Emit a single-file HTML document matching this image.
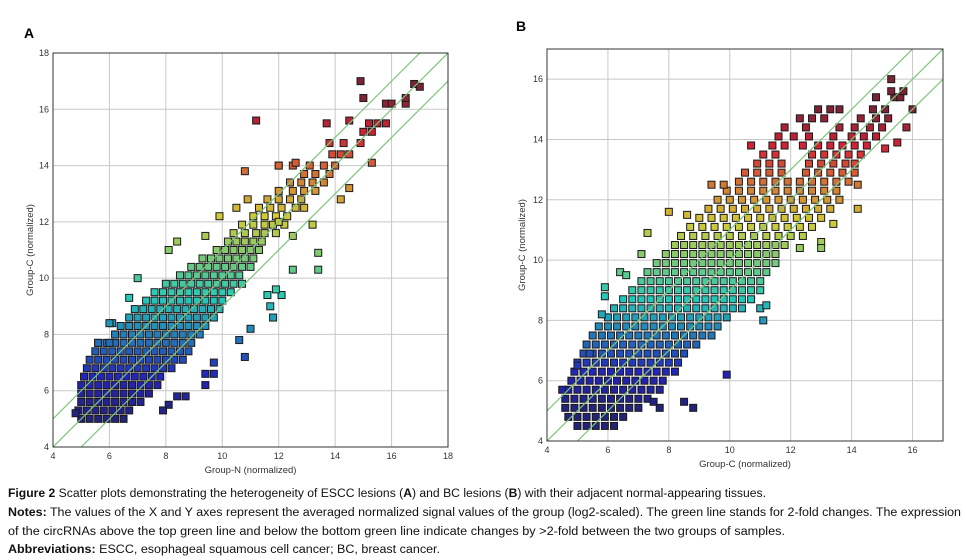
<!DOCTYPE html>
<html><head><meta charset="utf-8"><style>
body{margin:0;background:#fff;}
svg{display:block;font-family:"Liberation Sans",sans-serif;}
</style></head><body>
<svg id="fig" width="966" height="560" viewBox="0 0 966 560">
<rect width="966" height="560" fill="#fff"/>
<text x="24" y="38" font-size="14" font-weight="bold">A</text>
<text x="516" y="31" font-size="14" font-weight="bold">B</text>
<g id="pa"></g>
<g id="pb"></g>
<g font-size="11.5" fill="#111">
<text x="8" y="497" textLength="758" lengthAdjust="spacingAndGlyphs"><tspan font-weight="bold">Figure 2</tspan> Scatter plots demonstrating the heterogeneity of ESCC lesions (<tspan font-weight="bold">A</tspan>) and BC lesions (<tspan font-weight="bold">B</tspan>) with their adjacent normal-appearing tissues.</text>
<text x="8" y="516" textLength="953" lengthAdjust="spacingAndGlyphs"><tspan font-weight="bold">Notes:</tspan> The values of the X and Y axes represent the averaged normalized signal values of the group (log2-scaled). The green line stands for 2-fold changes. The expression</text>
<text x="8" y="535" textLength="777" lengthAdjust="spacingAndGlyphs">of the circRNAs above the top green line and below the bottom green line indicate changes by &gt;2-fold between the two groups of samples.</text>
<text x="8" y="553" textLength="432" lengthAdjust="spacingAndGlyphs"><tspan font-weight="bold">Abbreviations:</tspan> ESCC, esophageal squamous cell cancer; BC, breast cancer.</text>
</g>
</svg>
<script>
// Panel A data
const ticksA = [4,6,8,10,12,14,16,18];
const ptsA = [
[5.0,5.0],[5.3,5.0],[5.6,5.0],[5.9,5.0],[6.2,5.0],[6.5,5.0],
[4.9,5.3],[5.2,5.3],[5.5,5.3],[5.8,5.3],[6.1,5.3],[6.4,5.3],[6.7,5.3],
[5.0,5.6],[5.3,5.6],[5.6,5.6],[5.9,5.6],[6.2,5.6],[6.5,5.6],[6.8,5.6],[7.1,5.6],
[5.0,5.9],[5.3,5.9],[5.6,5.9],[5.9,5.9],[6.2,5.9],[6.5,5.9],[6.8,5.9],[7.1,5.9],[7.4,5.9],
[5.0,6.2],[5.3,6.2],[5.6,6.2],[5.9,6.2],[6.2,6.2],[6.5,6.2],[6.8,6.2],[7.1,6.2],[7.4,6.2],[7.7,6.2],
[5.1,6.5],[5.4,6.5],[5.7,6.5],[6.0,6.5],[6.3,6.5],[6.6,6.5],[6.9,6.5],[7.2,6.5],[7.5,6.5],[7.8,6.5],
[5.2,6.8],[5.5,6.8],[5.8,6.8],[6.1,6.8],[6.4,6.8],[6.7,6.8],[7.0,6.8],[7.3,6.8],[7.6,6.8],[7.9,6.8],[8.2,6.8],
[5.3,7.1],[5.6,7.1],[5.9,7.1],[6.2,7.1],[6.5,7.1],[6.8,7.1],[7.1,7.1],[7.4,7.1],[7.7,7.1],[8.0,7.1],[8.3,7.1],[8.6,7.1],
[5.5,7.4],[5.8,7.4],[6.1,7.4],[6.4,7.4],[6.7,7.4],[7.0,7.4],[7.3,7.4],[7.6,7.4],[7.9,7.4],[8.2,7.4],[8.5,7.4],[8.8,7.4],
[5.6,7.7],[5.9,7.7],[6.2,7.7],[6.5,7.7],[6.8,7.7],[7.1,7.7],[7.4,7.7],[7.7,7.7],[8.0,7.7],[8.3,7.7],[8.6,7.7],[8.9,7.7],
[6.2,8.0],[6.5,8.0],[6.8,8.0],[7.1,8.0],[7.4,8.0],[7.7,8.0],[8.0,8.0],[8.3,8.0],[8.6,8.0],[8.9,8.0],[9.2,8.0],
[6.4,8.3],[6.7,8.3],[7.0,8.3],[7.3,8.3],[7.6,8.3],[7.9,8.3],[8.2,8.3],[8.5,8.3],[8.8,8.3],[9.1,8.3],[9.4,8.3],
[6.7,8.6],[7.0,8.6],[7.3,8.6],[7.6,8.6],[7.9,8.6],[8.2,8.6],[8.5,8.6],[8.8,8.6],[9.1,8.6],[9.4,8.6],[9.7,8.6],
[6.9,8.9],[7.2,8.9],[7.5,8.9],[7.8,8.9],[8.1,8.9],[8.4,8.9],[8.7,8.9],[9.0,8.9],[9.3,8.9],[9.6,8.9],[9.9,8.9],
[7.3,9.2],[7.6,9.2],[7.9,9.2],[8.2,9.2],[8.5,9.2],[8.8,9.2],[9.1,9.2],[9.4,9.2],[9.7,9.2],[10.0,9.2],
[7.6,9.5],[7.9,9.5],[8.2,9.5],[8.5,9.5],[8.8,9.5],[9.1,9.5],[9.4,9.5],[9.7,9.5],[10.0,9.5],[10.3,9.5],
[8.0,9.8],[8.3,9.8],[8.6,9.8],[8.9,9.8],[9.2,9.8],[9.5,9.8],[9.8,9.8],[10.1,9.8],[10.4,9.8],[10.7,9.8],
[8.5,10.1],[8.8,10.1],[9.1,10.1],[9.4,10.1],[9.7,10.1],[10.0,10.1],[10.3,10.1],[10.6,10.1],
[8.9,10.4],[9.2,10.4],[9.5,10.4],[9.8,10.4],[10.1,10.4],[10.4,10.4],[10.7,10.4],[11.0,10.4],
[9.3,10.7],[9.6,10.7],[9.9,10.7],[10.2,10.7],[10.5,10.7],[10.8,10.7],[11.1,10.7],
[9.8,11.0],[10.1,11.0],[10.4,11.0],[10.7,11.0],[11.0,11.0],[11.3,11.0],
[10.2,11.3],[10.5,11.3],[10.8,11.3],[11.1,11.3],[11.4,11.3],
[10.4,11.6],[10.8,11.6],[11.2,11.6],[11.5,11.6],[11.9,11.6],
[10.7,11.9],[11.1,11.9],[11.5,11.9],[11.8,11.9],[12.2,11.9],
[11.1,12.2],[11.5,12.2],[11.9,12.2],[12.3,12.2],
[11.3,12.5],[11.7,12.5],[12.1,12.5],[12.6,12.5],[12.9,12.5],
[10.9,12.8],[11.6,12.8],[12.0,12.8],[12.4,12.8],[12.8,12.8],
[12.0,13.1],[12.5,13.1],[12.9,13.1],[13.3,13.1],
[12.4,13.4],[12.8,13.4],[13.2,13.4],[13.6,13.4],
[12.9,13.7],[13.3,13.7],[13.8,13.7],
[12.0,14.0],[12.5,14.0],[13.1,14.0],[13.6,14.0],[14.0,14.0],
[13.9,14.4],[14.2,14.4],[14.5,14.4],
[13.8,14.8],[14.3,14.8],[14.9,14.8],
[15.0,15.2],[15.3,15.2],
[13.7,15.5],[15.2,15.5],[15.5,15.5],[15.8,15.5],
[15.8,16.2],[16.0,16.2],[16.5,16.2],
[11.2,15.6],[14.9,17.0],[16.8,16.9],[17.0,16.8],[16.5,16.4],[15.0,16.4],[13.4,10.9],[13.4,10.3],[12.5,10.3],
[12.1,9.4],[11.9,9.6],[11.6,9.4],[11.7,9.0],[11.8,8.6],[11.0,8.2],[10.6,7.8],[10.8,7.2],[9.7,7.0],[9.4,6.6],
[9.7,6.6],[9.4,6.2],[8.7,5.8],[8.4,5.8],[8.1,5.5],[7.9,5.3],[4.8,5.2],[6.1,8.4],[6.0,8.4],[6.0,7.7],[5.6,7.7],
[7.0,10.0],[6.7,9.3],[8.4,11.3],[8.1,11.0],[9.4,11.5],[9.9,12.2],[10.5,12.5],[10.8,13.8],[12.6,14.1],[12.0,14.0],
[14.2,12.8],[14.5,13.2],[13.2,11.9],[12.5,11.5],[12.0,12.0],[15.3,14.1],[14.5,15.6]
];
// Panel B data
const ticksB = [4,6,8,10,12,14,16];
const ptsB = [
[5.0,4.5],[5.3,4.5],[5.6,4.5],[5.9,4.5],[6.2,4.5],
[4.7,4.8],[5.0,4.8],[5.3,4.8],[5.6,4.8],[5.9,4.8],[6.2,4.8],[6.5,4.8],
[4.6,5.1],[4.9,5.1],[5.2,5.1],[5.5,5.1],[5.8,5.1],[6.1,5.1],[6.4,5.1],[6.7,5.1],[7.0,5.1],
[4.6,5.4],[4.9,5.4],[5.2,5.4],[5.5,5.4],[5.8,5.4],[6.1,5.4],[6.4,5.4],[6.7,5.4],[7.0,5.4],[7.3,5.4],
[4.7,5.7],[5.0,5.7],[5.3,5.7],[5.6,5.7],[5.9,5.7],[6.2,5.7],[6.5,5.7],[6.8,5.7],[7.1,5.7],[7.4,5.7],[7.7,5.7],
[4.8,6.0],[5.1,6.0],[5.4,6.0],[5.7,6.0],[6.0,6.0],[6.3,6.0],[6.6,6.0],[6.9,6.0],[7.2,6.0],[7.5,6.0],[7.8,6.0],
[4.9,6.3],[5.2,6.3],[5.5,6.3],[5.8,6.3],[6.1,6.3],[6.4,6.3],[6.7,6.3],[7.0,6.3],[7.3,6.3],[7.6,6.3],[7.9,6.3],[8.2,6.3],
[5.0,6.6],[5.3,6.6],[5.6,6.6],[5.9,6.6],[6.2,6.6],[6.5,6.6],[6.8,6.6],[7.1,6.6],[7.4,6.6],[7.7,6.6],[8.0,6.6],[8.3,6.6],
[5.2,6.9],[5.5,6.9],[5.8,6.9],[6.1,6.9],[6.4,6.9],[6.7,6.9],[7.0,6.9],[7.3,6.9],[7.6,6.9],[7.9,6.9],[8.2,6.9],[8.5,6.9],
[5.3,7.2],[5.6,7.2],[5.9,7.2],[6.2,7.2],[6.5,7.2],[6.8,7.2],[7.1,7.2],[7.4,7.2],[7.7,7.2],[8.0,7.2],[8.3,7.2],[8.6,7.2],[8.9,7.2],
[5.5,7.5],[5.8,7.5],[6.1,7.5],[6.4,7.5],[6.7,7.5],[7.0,7.5],[7.3,7.5],[7.6,7.5],[7.9,7.5],[8.2,7.5],[8.5,7.5],[8.8,7.5],[9.1,7.5],[9.4,7.5],
[5.7,7.8],[6.0,7.8],[6.3,7.8],[6.6,7.8],[6.9,7.8],[7.2,7.8],[7.5,7.8],[7.8,7.8],[8.1,7.8],[8.4,7.8],[8.7,7.8],[9.0,7.8],[9.3,7.8],[9.6,7.8],
[6.0,8.1],[6.3,8.1],[6.6,8.1],[6.9,8.1],[7.2,8.1],[7.5,8.1],[7.8,8.1],[8.1,8.1],[8.4,8.1],[8.7,8.1],[9.0,8.1],[9.3,8.1],[9.6,8.1],[9.9,8.1],
[6.2,8.4],[6.5,8.4],[6.8,8.4],[7.1,8.4],[7.4,8.4],[7.7,8.4],[8.0,8.4],[8.3,8.4],[8.6,8.4],[8.9,8.4],[9.2,8.4],[9.5,8.4],[9.8,8.4],[10.1,8.4],[10.4,8.4],
[6.5,8.7],[6.8,8.7],[7.1,8.7],[7.4,8.7],[7.7,8.7],[8.0,8.7],[8.3,8.7],[8.6,8.7],[8.9,8.7],[9.2,8.7],[9.5,8.7],[9.8,8.7],[10.1,8.7],[10.4,8.7],[10.7,8.7],
[6.8,9.0],[7.1,9.0],[7.4,9.0],[7.7,9.0],[8.0,9.0],[8.3,9.0],[8.6,9.0],[8.9,9.0],[9.2,9.0],[9.5,9.0],[9.8,9.0],[10.1,9.0],[10.4,9.0],[10.7,9.0],[11.0,9.0],
[7.1,9.3],[7.4,9.3],[7.7,9.3],[8.0,9.3],[8.3,9.3],[8.6,9.3],[8.9,9.3],[9.2,9.3],[9.5,9.3],[9.8,9.3],[10.1,9.3],[10.4,9.3],[10.7,9.3],[11.0,9.3],
[7.3,9.6],[7.6,9.6],[7.9,9.6],[8.2,9.6],[8.5,9.6],[8.8,9.6],[9.1,9.6],[9.4,9.6],[9.7,9.6],[10.0,9.6],[10.3,9.6],[10.6,9.6],[10.9,9.6],[11.2,9.6],
[7.6,9.9],[7.9,9.9],[8.2,9.9],[8.5,9.9],[8.8,9.9],[9.1,9.9],[9.4,9.9],[9.7,9.9],[10.0,9.9],[10.3,9.9],[10.6,9.9],[10.9,9.9],[11.2,9.9],[11.5,9.9],
[7.9,10.2],[8.2,10.2],[8.5,10.2],[8.8,10.2],[9.1,10.2],[9.4,10.2],[9.7,10.2],[10.0,10.2],[10.3,10.2],[10.6,10.2],[10.9,10.2],[11.2,10.2],[11.5,10.2],
[8.2,10.5],[8.5,10.5],[8.8,10.5],[9.1,10.5],[9.4,10.5],[9.7,10.5],[10.0,10.5],[10.3,10.5],[10.6,10.5],[10.9,10.5],[11.2,10.5],[11.5,10.5],[11.8,10.5],
[8.4,10.8],[8.8,10.8],[9.2,10.8],[9.6,10.8],[10.0,10.8],[10.4,10.8],[10.8,10.8],[11.2,10.8],[11.6,10.8],[12.0,10.8],[12.4,10.8],
[8.7,11.1],[9.1,11.1],[9.5,11.1],[9.9,11.1],[10.3,11.1],[10.7,11.1],[11.1,11.1],[11.5,11.1],[11.9,11.1],[12.3,11.1],[12.7,11.1],
[9.0,11.4],[9.4,11.4],[9.8,11.4],[10.2,11.4],[10.6,11.4],[11.0,11.4],[11.4,11.4],[11.8,11.4],[12.2,11.4],[12.6,11.4],[13.0,11.4],
[9.3,11.7],[9.7,11.7],[10.1,11.7],[10.5,11.7],[10.9,11.7],[11.3,11.7],[11.7,11.7],[12.1,11.7],[12.5,11.7],[12.9,11.7],[13.3,11.7],
[9.6,12.0],[10.0,12.0],[10.4,12.0],[10.8,12.0],[11.2,12.0],[11.6,12.0],[12.0,12.0],[12.4,12.0],[12.8,12.0],[13.2,12.0],[13.6,12.0],
[9.9,12.3],[10.3,12.3],[10.7,12.3],[11.1,12.3],[11.5,12.3],[11.9,12.3],[12.3,12.3],[12.7,12.3],[13.1,12.3],[13.5,12.3],
[10.3,12.6],[10.7,12.6],[11.1,12.6],[11.5,12.6],[11.9,12.6],[12.3,12.6],[12.7,12.6],[13.1,12.6],[13.5,12.6],[13.9,12.6],
[10.5,12.9],[10.9,12.9],[11.3,12.9],[11.7,12.9],[12.5,12.9],[12.9,12.9],[13.3,12.9],[13.7,12.9],[14.1,12.9],
[10.9,13.2],[11.3,13.2],[11.7,13.2],[12.6,13.2],[13.0,13.2],[13.4,13.2],[13.8,13.2],[14.1,13.2],
[11.1,13.5],[11.5,13.5],[12.7,13.5],[13.1,13.5],[13.5,13.5],[13.9,13.5],[14.3,13.5],
[10.7,13.8],[11.4,13.8],[11.8,13.8],[12.4,13.8],[12.9,13.8],[13.3,13.8],[13.7,13.8],[14.1,13.8],[14.5,13.8],
[11.6,14.1],[12.1,14.1],[12.6,14.1],[13.4,14.1],[14.0,14.1],[14.4,14.1],[14.8,14.1],
[11.8,14.4],[12.5,14.4],[13.6,14.4],[14.1,14.4],[14.6,14.4],[15.0,14.4],
[12.3,14.7],[12.7,14.7],[13.1,14.7],[14.3,14.7],[14.8,14.7],[15.2,14.7],
[12.9,15.0],[13.3,15.0],[13.6,15.0],[14.7,15.0],[15.1,15.0],
[14.8,15.4],[15.4,15.4],[15.6,15.4],
[15.3,15.6],[15.7,15.6],
[15.3,16.0],[16.0,15.0],[15.8,14.4],[15.5,13.9],[15.1,13.7],[14.2,12.5],[14.2,11.7],[13.4,11.2],[13.0,10.6],
[13.0,10.4],[12.3,10.4],[11.1,8.0],[11.0,8.4],[11.2,8.5],[9.9,6.2],[8.8,5.1],[8.5,5.3],[7.7,5.1],[7.5,5.3],
[4.5,5.7],[5.0,6.5],[5.4,6.9],[5.9,8.8],[5.9,9.1],[5.8,8.2],[6.4,9.6],[6.6,9.5],[7.1,10.2],[7.3,10.9],
[8.0,11.6],[8.6,11.5],[9.4,12.5],[9.8,12.5]
];

const NS='http://www.w3.org/2000/svg';
function mk(tag,attrs,parent){const e=document.createElementNS(NS,tag);for(const k in attrs)e.setAttribute(k,attrs[k]);parent.appendChild(e);return e;}
function jet(t){t=Math.max(0,Math.min(1,t));
  const r=Math.max(0,Math.min(1,1.5-Math.abs(4*t-3))),g=Math.max(0,Math.min(1,1.5-Math.abs(4*t-2))),b=Math.max(0,Math.min(1,1.5-Math.abs(4*t-1)));
  return 'rgb('+Math.round((r*200+40)*0.88)+','+Math.round((g*190+40)*0.88)+','+Math.round((b*150+60)*0.88)+')';}

function panel(g,pts,ticks,cfg){
  const sx=v=>cfg.x0+(v-cfg.min)/(cfg.max-cfg.min)*(cfg.x1-cfg.x0);
  const sy=v=>cfg.y1-(v-cfg.min)/(cfg.max-cfg.min)*(cfg.y1-cfg.y0);
  const clipId='clip'+cfg.id;
  const defs=mk('defs',{},g);const cp=mk('clipPath',{id:clipId},defs);
  mk('rect',{x:cfg.x0,y:cfg.y0,width:cfg.x1-cfg.x0,height:cfg.y1-cfg.y0},cp);
  ticks.forEach(t=>{
    if(t>cfg.min&&t<cfg.max){
      const gl=mk('line',{x1:sx(t),x2:sx(t),y1:cfg.y0,y2:cfg.y1,stroke:'#c8c8c8','stroke-width':1},g);
      
      
      const gh=mk('line',{x1:cfg.x0,x2:cfg.x1,y1:sy(t),y2:sy(t),stroke:'#c8c8c8','stroke-width':1},g);
      
      
    }
    const xt=mk('text',{x:sx(t),y:cfg.y1+12,'font-size':9,fill:'#333','text-anchor':'middle'},g);xt.textContent=t;
    
    
    const yt=mk('text',{x:cfg.x0-4,y:sy(t)+3,'font-size':9,fill:'#333','text-anchor':'end'},g);yt.textContent=t;
    
    
  });
  const pg=mk('g',{'clip-path':'url(#'+clipId+')'},g);
  pts.forEach(p=>{
    const r=mk('rect',{x:sx(p[0])-3.5,y:sy(p[1])-3.5,width:7,height:7,fill:jet((p[1]-5)/(cfg.cmax-5)),stroke:'#1a1a1a','stroke-width':1},pg);
    
    
  });
  [-1,0,1].forEach(o=>{
    const l=mk('line',{x1:sx(cfg.min),y1:sy(cfg.min+o),x2:sx(cfg.max),y2:sy(cfg.max+o),stroke:'#7cc47c','stroke-width':1.2},pg);
    
    
  });
  const bx=mk('rect',{x:cfg.x0,y:cfg.y0,width:cfg.x1-cfg.x0,height:cfg.y1-cfg.y0,fill:'none',stroke:'#333','stroke-width':1},g);
  
  
  const xl=mk('text',{x:(cfg.x0+cfg.x1)/2,y:cfg.y1+26,'font-size':9.5,fill:'#333','text-anchor':'middle'},g);xl.textContent=cfg.xlabel;
  
  
  const cy=(cfg.y0+cfg.y1)/2;
  const yl=mk('text',{x:cfg.ylx,y:cy,'font-size':9.5,fill:'#333','text-anchor':'middle',transform:'rotate(-90 '+cfg.ylx+' '+cy+')'},g);yl.textContent=cfg.ylabel;
  
  
}
panel(document.getElementById('pa'),ptsA,ticksA,{id:'A',x0:53,x1:448,y0:53,y1:447,min:4,max:18,cmax:16.5,xlabel:'Group-N (normalized)',ylabel:'Group-C (normalized)',ylx:33});
panel(document.getElementById('pb'),ptsB,ticksB,{id:'B',x0:547,x1:943,y0:49,y1:441,min:4,max:17,cmax:15,xlabel:'Group-C (normalized)',ylabel:'Group-C (normalized)',ylx:525});
</script>
</body></html>
